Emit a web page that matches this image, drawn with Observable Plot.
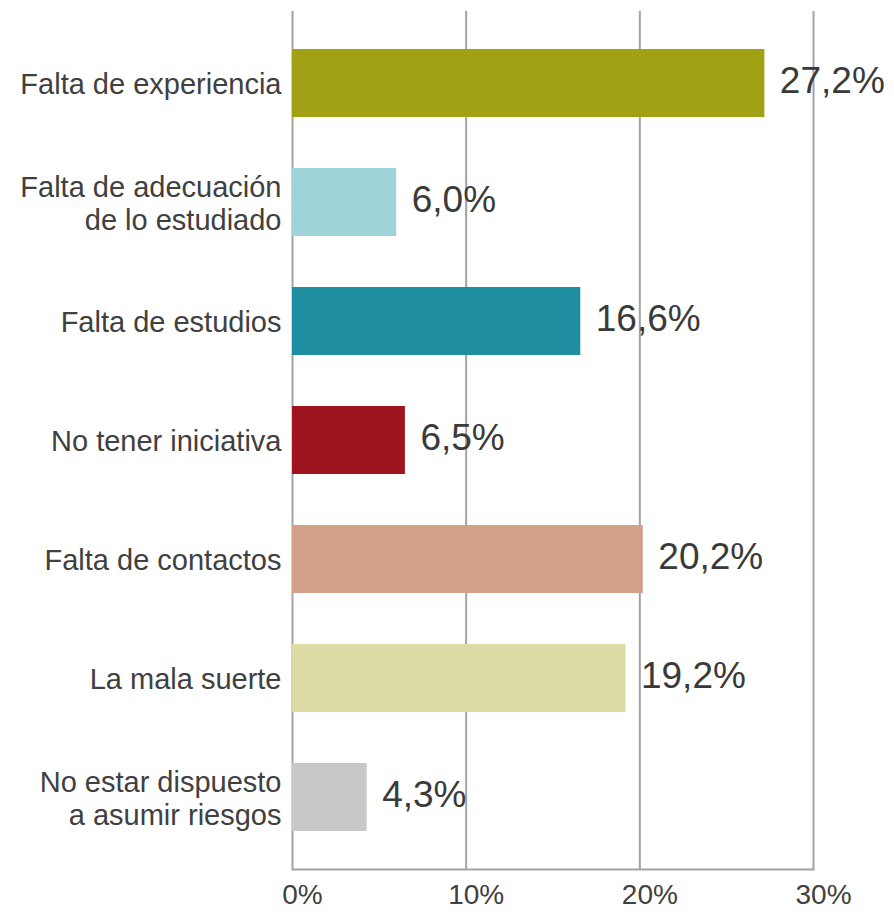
<!DOCTYPE html>
<html>
<head>
<meta charset="utf-8">
<script src="https://cdn.jsdelivr.net/npm/d3@7"></script>
<script src="https://cdn.jsdelivr.net/npm/@observablehq/plot@0.6"></script>
<style>
  html, body { margin: 0; padding: 0; background: #ffffff; }
  #chart { width: 894px; height: 912px; }
</style>
</head>
<body>
<div id="chart"></div>
<script>
const categories = [
  "Falta de experiencia",
  "Falta de adecuación\nde lo estudiado",
  "Falta de estudios",
  "No tener iniciativa",
  "Falta de contactos",
  "La mala suerte",
  "No estar dispuesto\na asumir riesgos"
];
const values = [27.2, 6.0, 16.6, 6.5, 20.2, 19.2, 4.3];
const barColors = ["#a0a114", "#9ed3da", "#1e8d9f", "#9e141e", "#d5a08a", "#dcdba3", "#c8c8c6"];
const xTicks = [0, 10, 20, 30];
const valueLabels = values.map(v => v.toFixed(1).replace(".", ",") + "%");

const data = categories.map((c, i) => ({category: c, value: values[i], color: barColors[i], label: valueLabels[i]}));

const font = "'Liberation Sans', Arial, Helvetica, sans-serif";

const chart = Plot.plot({
  width: 894,
  height: 912,
  marginLeft: 292,
  marginRight: 81,
  marginTop: 11,
  marginBottom: 43,
  style: {fontFamily: font, background: "#ffffff", color: "#404040"},
  x: {domain: [0, 30], axis: null, label: null},
  y: {domain: categories, paddingInner: 0.43, paddingOuter: 0.32, axis: null, label: null},
  marks: [
    Plot.gridX(xTicks, {stroke: "#a3a3a3", strokeOpacity: 1, strokeWidth: 2}),
    Plot.frame({anchor: "bottom", stroke: "#a3a3a3", strokeWidth: 2}),
    Plot.barX(data, {x: "value", y: "category", fill: "color"}),
    Plot.text(data, {x: 0, y: "category", text: "category", textAnchor: "end", dx: -11, fontSize: 29, lineHeight: 1.15, fill: "#404040"}),
    Plot.text(data, {x: "value", y: "category", text: "label", textAnchor: "start", dx: 15, dy: -2, fontSize: 37, fill: "#3a3a3a"}),
    Plot.axisX(xTicks, {label: null, tickFormat: d => d + "%", tickSize: 0, tickPadding: 15, fontSize: 28, dx: 10, fill: "#404040"})
  ]
});

document.getElementById("chart").appendChild(chart);
</script>
</body>
</html>
